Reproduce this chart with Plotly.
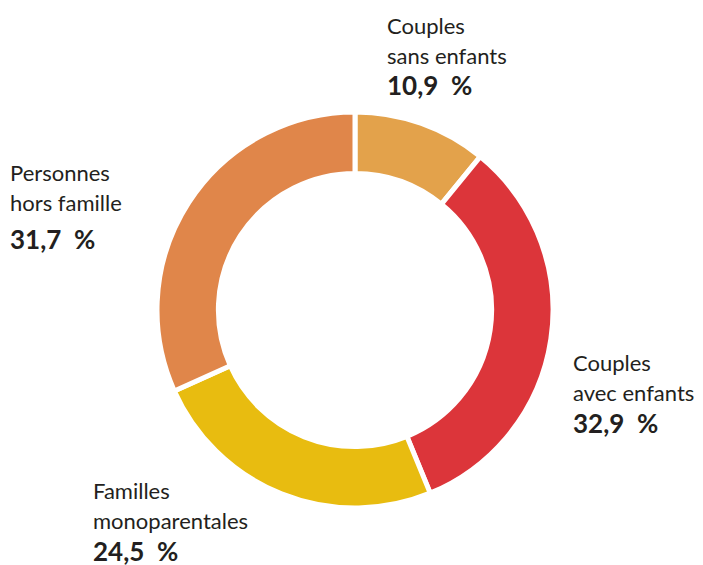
import plotly.graph_objects as go

W, H = 695, 557  # page body has an 8px margin

labels = ["Couples sans enfants", "Couples avec enfants", "Familles monoparentales", "Personnes hors famille"]
label_lines = [["Couples", "sans enfants"], ["Couples", "avec enfants"], ["Familles", "monoparentales"], ["Personnes", "hors famille"]]
values = [10.9, 32.9, 24.5, 31.7]
colors = ["#E3A24B", "#DC353A", "#E8BC10", "#E0864A"]

# label positions in figure pixels: (left, top of first line, top of value)
label_pos = [(377, 2, 59), (563, 339, 397), (83, 467, 525), (0, 149, 213)]

cx, cy, r = 347, 302, 198

fig = go.Figure(go.Pie(
    labels=labels, values=values, sort=False, direction="clockwise", rotation=0,
    hole=0.69, textinfo="none", hoverinfo="label+value",
    marker=dict(colors=colors, line=dict(color="white", width=5)),
    domain=dict(x=[(cx - r) / W, (cx + r) / W], y=[(H - cy - r) / H, (H - cy + r) / H]),
    showlegend=False,
))

font_family = "Lato, 'Open Sans', sans-serif"
annotations = []
for (x0, y0, yv), lines, v in zip(label_pos, label_lines, values):
    for i, ln in enumerate(lines):
        annotations.append(dict(
            x=x0 / W, y=1 - (y0 + i * 30) / H, xref="paper", yref="paper",
            xanchor="left", yanchor="top", showarrow=False, text=ln,
            font=dict(family=font_family, size=22, color="#231F20"),
        ))
    annotations.append(dict(
        x=x0 / W, y=1 - yv / H, xref="paper", yref="paper",
        xanchor="left", yanchor="top", showarrow=False,
        text="<b>" + f"{v:.1f}".replace(".", ",") + "&nbsp;&nbsp;%</b>",
        font=dict(family=font_family, size=26, color="#231F20"),
    ))

fig.update_layout(
    width=W, height=H, margin=dict(l=0, r=0, t=0, b=0),
    paper_bgcolor="white", plot_bgcolor="white",
    annotations=annotations,
)

fig.write_html("out.html")
